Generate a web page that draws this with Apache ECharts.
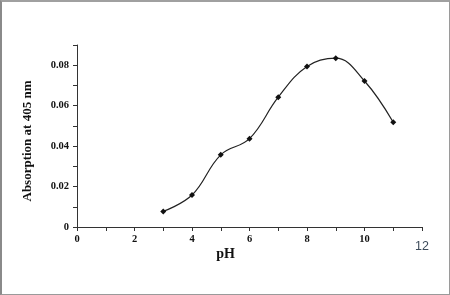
<!DOCTYPE html>
<html>
<head>
<meta charset="utf-8">
<script src="https://cdn.jsdelivr.net/npm/echarts@6/dist/echarts.min.js"></script>
<style>
html,body{margin:0;padding:0;background:#fff;}
#c{width:450px;height:295px;box-sizing:border-box;border:1px solid #9a9a9a;border-left:2px solid #8a8a8a;border-top:2px solid #a0a0a0;}
</style>
</head>
<body>
<div id="c"></div>
<script>
const pH = [3, 4, 5, 6, 7, 8, 9, 10, 11];
const absorption = [0.0077, 0.0158, 0.0357, 0.0437, 0.0642, 0.0794, 0.0835, 0.0722, 0.0518];
const xTitle = 'pH';
const yTitle = 'Absorption at 405 nm';

const chart = echarts.init(document.getElementById('c'));
const serif = '"Liberation Serif","Times New Roman",serif';
chart.setOption({
  animation: false,
  grid: {left: 75, right: 27, top: 43, bottom: 67},
  xAxis: {
    type: 'value', min: 0, max: 12, interval: 1,
    name: xTitle, nameLocation: 'middle', nameGap: 20, nameMoveOverlap: false,
    nameTextStyle: {fontFamily: serif, fontWeight: 'bold', fontSize: 14, color: '#111', padding: [0, 48, 0, 0]},
    axisLine: {lineStyle: {color: '#333', width: 1}},
    axisTick: {show: true, inside: false, length: 4, lineStyle: {color: '#333'}},
    splitLine: {show: false},
    axisLabel: {
      margin: 7, fontFamily: serif, fontWeight: 'bold', fontSize: 10.5, color: '#111',
      formatter: function (v) {
        if (v === 12) return '{s|12}';
        return v % 2 === 0 ? String(v) : '';
      },
      rich: {s: {fontFamily: 'Liberation Sans, Arial, sans-serif', fontWeight: 'normal', fontSize: 12.5, color: '#3d4b5a', padding: [6, 0, 0, 0]}}
    }
  },
  yAxis: {
    type: 'value', min: 0, max: 0.09, interval: 0.01,
    name: yTitle, nameLocation: 'middle', nameGap: 43, nameRotate: 90, nameMoveOverlap: false,
    nameTextStyle: {fontFamily: serif, fontWeight: 'bold', fontSize: 13, color: '#111', padding: [0, 10, 0, 0]},
    axisLine: {show: true, lineStyle: {color: '#333', width: 1}},
    axisTick: {show: true, inside: false, length: 4, lineStyle: {color: '#333'}},
    splitLine: {show: false},
    axisLabel: {
      margin: 8, fontFamily: serif, fontWeight: 'bold', fontSize: 10.5, color: '#111',
      formatter: function (v) {
        const k = Math.round(v * 100);
        if (k === 0) return '0';
        if (k === 9) return '';
        return k % 2 === 0 ? v.toFixed(2) : '';
      }
    }
  },
  series: [{
    type: 'line', smooth: 0.4,
    data: pH.map((x, i) => [x, absorption[i]]),
    symbol: 'diamond', symbolSize: 6,
    itemStyle: {color: '#111'},
    lineStyle: {color: '#222', width: 1.2}
  }]
});
</script>
</body>
</html>
